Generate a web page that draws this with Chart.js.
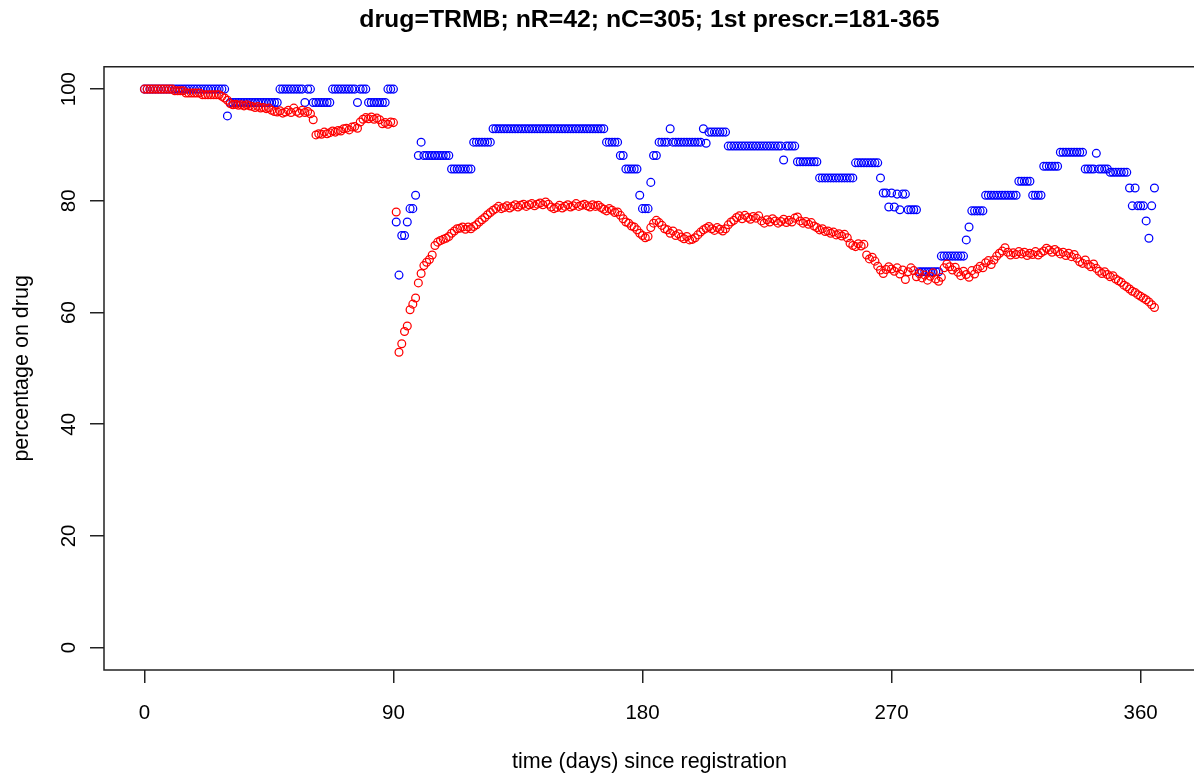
<!DOCTYPE html>
<html>
<head>
<meta charset="utf-8">
<title>drug=TRMB</title>
<script src="https://cdn.jsdelivr.net/npm/chart.js@4/dist/chart.umd.min.js"></script>
<style>
  html, body { margin: 0; padding: 0; background: #ffffff; overflow: hidden; }
  canvas { display: block; }
</style>
</head>
<body>
<canvas id="chart" width="1200" height="780"></canvas>
<script>
// Labels and tick positions
const titleText = 'drug=TRMB; nR=42; nC=305; 1st prescr.=181-365';
const xTitle = 'time (days) since registration';
const yTitle = 'percentage on drug';
const xTicks = [0, 90, 180, 270, 360];
const yTicks = [0, 20, 40, 60, 80, 100];

// One value per day, starting at day 0
const firstDay = 0;

// nR group (blue): percentage still on drug, days 0..365
const pctR = [
  100,100,100,100,100,100,100,100,100,100,
  100,100,100,100,100,100,100,100,100,100,
  100,100,100,100,100,100,100,100,100,100,
  95.2,97.6,97.6,97.6,97.6,97.6,97.6,97.6,97.6,97.6,
  97.6,97.6,97.6,97.6,97.6,97.6,97.6,97.6,97.6,100,
  100,100,100,100,100,100,100,100,97.6,100,
  100,97.6,97.6,97.6,97.6,97.6,97.6,97.6,100,100,
  100,100,100,100,100,100,100,97.6,100,100,
  100,97.6,97.6,97.6,97.6,97.6,97.6,97.6,100,100,
  100,76.2,66.7,73.8,73.8,76.2,78.6,78.6,81.0,88.1,
  90.5,88.1,88.1,88.1,88.1,88.1,88.1,88.1,88.1,88.1,
  88.1,85.7,85.7,85.7,85.7,85.7,85.7,85.7,85.7,90.5,
  90.5,90.5,90.5,90.5,90.5,90.5,92.9,92.9,92.9,92.9,
  92.9,92.9,92.9,92.9,92.9,92.9,92.9,92.9,92.9,92.9,
  92.9,92.9,92.9,92.9,92.9,92.9,92.9,92.9,92.9,92.9,
  92.9,92.9,92.9,92.9,92.9,92.9,92.9,92.9,92.9,92.9,
  92.9,92.9,92.9,92.9,92.9,92.9,92.9,90.5,90.5,90.5,
  90.5,90.5,88.1,88.1,85.7,85.7,85.7,85.7,85.7,81.0,
  78.6,78.6,78.6,83.3,88.1,88.1,90.5,90.5,90.5,90.5,
  92.9,90.5,90.5,90.5,90.5,90.5,90.5,90.5,90.5,90.5,
  90.5,90.5,92.9,90.3,92.3,92.3,92.3,92.3,92.3,92.3,
  92.3,89.8,89.8,89.8,89.8,89.8,89.8,89.8,89.8,89.8,
  89.8,89.8,89.8,89.8,89.8,89.8,89.8,89.8,89.8,89.8,
  89.8,87.3,89.8,89.8,89.8,89.8,87.0,87.0,87.0,87.0,
  87.0,87.0,87.0,87.0,84.1,84.1,84.1,84.1,84.1,84.1,
  84.1,84.1,84.1,84.1,84.1,84.1,84.1,86.8,86.8,86.8,
  86.8,86.8,86.8,86.8,86.8,86.8,84.1,81.4,81.4,78.9,
  81.4,78.9,81.2,78.4,81.2,81.2,78.4,78.4,78.4,78.4,
  67.3,67.3,67.3,67.3,67.3,67.3,67.3,67.3,70.1,70.1,
  70.1,70.1,70.1,70.1,70.1,70.1,70.1,73.0,75.3,78.2,
  78.2,78.2,78.2,78.2,81.0,81.0,81.0,81.0,81.0,81.0,
  81.0,81.0,81.0,81.0,81.0,81.0,83.5,83.5,83.5,83.5,
  83.5,81.0,81.0,81.0,81.0,86.2,86.2,86.2,86.2,86.2,
  86.2,88.7,88.7,88.7,88.7,88.7,88.7,88.7,88.7,88.7,
  85.7,85.7,85.7,85.7,88.5,85.7,85.7,85.7,85.7,85.1,
  85.1,85.1,85.1,85.1,85.1,85.1,82.3,79.1,82.3,79.1,
  79.1,79.1,76.4,73.3,79.1,82.3
];

// nC group (red): percentage still on drug, days 0..365
const pctC = [
  100,100,100,100,100,100,100,100,100,100,
  100,99.7,99.7,99.7,99.7,99.3,99.3,99.3,99.3,99.3,
  99.3,99.0,99.0,99.0,99.0,99.0,99.0,99.0,98.7,98.4,
  98.0,97.4,97.2,97.3,97.1,97.2,97.0,97.2,97.0,96.9,
  96.7,96.9,96.6,96.7,96.5,96.6,96.2,96.0,95.9,96.1,
  95.7,95.9,96.2,95.8,96.6,96.0,95.7,96.2,95.8,96.0,
  95.6,94.5,91.8,92.0,91.9,92.3,92.0,92.2,92.5,92.3,
  92.6,92.5,92.9,93.0,92.7,93.2,93.3,93.0,94.1,94.6,
  94.9,94.7,95.0,94.6,94.8,94.5,93.8,94.0,93.7,94.1,
  94.0,78.0,52.9,54.4,56.6,57.6,60.5,61.5,62.6,65.3,
  67.0,68.4,69.0,69.5,70.3,72.0,72.6,72.9,73.1,73.3,
  73.6,74.2,74.6,75.0,75.1,75.3,74.9,75.3,75.0,75.4,
  75.7,76.2,76.6,77.0,77.5,77.9,78.3,78.6,79.0,78.6,
  78.8,79.1,78.7,79.0,79.3,78.9,79.2,79.4,79.0,79.3,
  79.5,79.1,79.4,79.6,79.3,79.8,79.4,78.9,78.6,78.8,
  79.2,78.7,79.0,79.3,78.9,79.1,79.5,79.0,79.2,79.4,
  79.1,78.9,79.3,79.0,79.2,78.8,78.5,78.2,78.6,78.3,
  77.9,78.0,77.4,76.8,76.2,76.0,75.5,75.3,74.8,74.2,
  73.8,73.4,73.6,75.2,76.0,76.5,76.1,75.6,75.0,74.8,
  74.2,74.6,73.8,74.1,73.5,73.2,73.6,73.0,73.1,73.4,
  73.9,74.4,74.8,75.1,75.4,75.0,74.7,75.2,74.9,74.6,
  75.0,75.7,76.2,76.5,77.0,77.3,76.8,77.4,77.0,76.7,
  77.2,76.9,77.3,76.4,76.0,76.6,76.2,76.8,76.4,76.0,
  76.3,76.7,76.1,76.5,76.2,76.9,77.1,76.4,76.0,76.3,
  75.8,76.1,75.5,75.2,74.8,75.0,74.5,74.6,74.2,74.4,
  73.9,74.1,73.7,74.0,73.4,72.4,72.0,71.8,72.3,71.9,
  72.2,70.3,69.6,69.9,69.2,68.3,67.6,67.0,67.7,68.2,
  67.8,67.4,68.0,66.9,67.6,65.9,67.3,68.0,67.5,66.4,
  67.0,66.2,66.7,65.8,66.5,67.1,66.0,65.6,66.3,68.0,
  68.7,68.2,67.6,68.1,67.2,66.6,67.4,66.8,66.3,67.5,
  66.9,67.8,68.3,68.0,68.9,69.3,68.6,69.4,70.1,70.6,
  71.0,71.6,70.8,70.3,70.7,70.4,70.9,70.5,70.8,70.2,
  70.6,70.4,70.9,70.3,70.7,71.0,71.5,71.2,70.8,71.3,
  70.9,70.5,70.8,70.2,70.6,70.0,70.4,69.7,69.1,68.8,
  69.4,68.6,68.2,68.7,67.9,67.4,67.0,67.3,66.8,66.4,
  66.6,66.0,65.7,65.4,64.9,64.6,64.2,63.8,63.6,63.2,
  62.9,62.6,62.3,61.9,61.4,60.9
];

const FONT = "'Liberation Sans', Arial, Helvetica, sans-serif";
const TICK_SIZE = 20.5;
const LABEL_SIZE = 21.5;
const toPoints = vals => vals.map((v, i) => ({ x: firstDay + i, y: v }));

function circles(values, colour) {
  return {
    data: toPoints(values),
    showLine: false,
    pointStyle: 'circle',
    pointRadius: 3.9,
    pointHoverRadius: 3.9,
    pointBorderWidth: 1.25,
    borderColor: colour,
    backgroundColor: 'rgba(0,0,0,0)'
  };
}

// Plot frame and rotated y tick labels (base-graphics look)
const framePlugin = {
  id: 'frame',
  afterDraw(chart) {
    const { ctx, chartArea: a, scales: { y } } = chart;
    ctx.save();
    ctx.strokeStyle = '#222';
    ctx.lineWidth = 1.5;
    ctx.strokeRect(a.left, a.top, a.right - a.left, a.bottom - a.top);

    ctx.fillStyle = '#000';
    ctx.font = TICK_SIZE + 'px ' + FONT;
    ctx.textAlign = 'center';
    ctx.textBaseline = 'middle';
    yTicks.forEach(v => {
      const py = y.getPixelForValue(v);
      ctx.save();
      ctx.translate(69, py);
      ctx.rotate(-Math.PI / 2);
      ctx.fillText(String(v), 0, 0);
      ctx.restore();
    });
    ctx.restore();
  }
};

new Chart(document.getElementById('chart').getContext('2d'), {
  type: 'scatter',
  data: {
    datasets: [
      circles(pctC, '#ff0000'),
      circles(pctR, '#0000ff')
    ]
  },
  options: {
    responsive: false,
    animation: false,
    events: [],
    layout: { padding: { left: 0, right: 3, top: 0, bottom: 0 } },
    plugins: {
      legend: { display: false },
      tooltip: { enabled: false },
      title: {
        display: true,
        fullSize: false,
        text: titleText,
        color: '#000',
        font: { family: FONT, size: 24.8, weight: 'bold', lineHeight: 1.2 },
        padding: { top: 5, bottom: 32 }
      }
    },
    scales: {
      x: {
        type: 'linear',
        min: -14.6,
        max: 379.6,
        afterBuildTicks: s => { s.ticks = xTicks.map(v => ({ value: v })); },
        afterFit: s => { s.height = 110; },
        border: { display: false },
        grid: { drawOnChartArea: false, drawTicks: true, tickLength: 13, color: '#222', lineWidth: 1.5 },
        ticks: { color: '#000', font: { family: FONT, size: TICK_SIZE }, padding: 18, maxRotation: 0, autoSkip: false },
        title: { display: true, text: xTitle, color: '#000', font: { family: FONT, size: LABEL_SIZE }, padding: { top: 0, bottom: 5 } }
      },
      y: {
        type: 'linear',
        min: -4,
        max: 104,
        afterBuildTicks: s => { s.ticks = yTicks.map(v => ({ value: v })); },
        afterFit: s => { s.width = 104; },
        border: { display: false },
        grid: { drawOnChartArea: false, drawTicks: true, tickLength: 14, color: '#222', lineWidth: 1.5 },
        ticks: { display: false },
        title: { display: true, text: yTitle, color: '#000', font: { family: FONT, size: LABEL_SIZE }, padding: { top: 9, bottom: 0 } }
      }
    }
  },
  plugins: [framePlugin]
});
</script>
</body>
</html>
